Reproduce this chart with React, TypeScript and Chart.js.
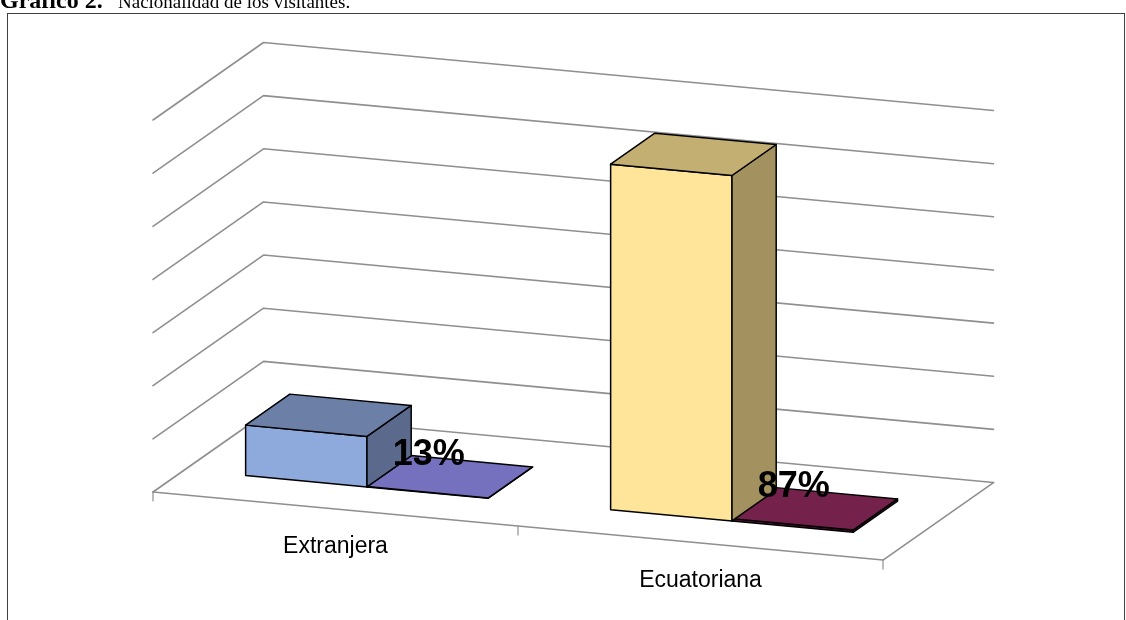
import React, { useEffect, useRef } from "react";
import { Chart, registerables } from "chart.js";

Chart.register(...registerables);

// ---- data ----
const categories = ["Extranjera", "Ecuatoriana"];
const visitantes = [19, 130];
const porcentajes = [0.13, 0.87];
const percentLabels = ["13%", "87%"];
const yMax = 140;
const yStep = 20;

// ---- per-point colours (vary colours by point) ----
const frontColors = ["#8EA9DB", "#FEE599"];
const topColors = ["#6B7FA7", "#C4AF72"];
const sideColors = ["#5B6A8C", "#A39160"];
const tileTopColors = ["#7571BF", "#74224C"];
const tileFrontColors = ["#4E4A87", "#4A1530"];

// ---- pseudo-3D projection settings ----
const DX = 110.5;
const DY = -77.5;
const SLOPE = 0.0932;
const D1 = 0.285;
const D2 = 0.685;

const pseudo3d = {
  id: "pseudo3d",
  beforeDraw(chart: any) {
    const ctx = chart.ctx as CanvasRenderingContext2D;
    ctx.save();
    ctx.fillStyle = "#ffffff";
    ctx.fillRect(0, 0, chart.width, chart.height);
    ctx.strokeStyle = "#404040";
    ctx.lineWidth = 1;
    ctx.strokeRect(7.5, 13.5, 1117, 700);
    ctx.fillStyle = "#000";
    ctx.textAlign = "left";
    ctx.textBaseline = "alphabetic";
    ctx.font = 'bold 24px "Liberation Serif", "Times New Roman", serif';
    ctx.fillText("Gráfico 2.", 0, 8);
    ctx.font = '19px "Liberation Serif", "Times New Roman", serif';
    ctx.fillText("Nacionalidad de los visitantes.", 118, 8);
    ctx.restore();
  },
  afterDatasetsDraw(chart: any) {
    const ctx = chart.ctx as CanvasRenderingContext2D;
    const a = chart.chartArea;
    const xs = chart.scales.x;
    const ys = chart.scales.y;
    const base0 = ys.getPixelForValue(0);
    const H = (v: number) => base0 - ys.getPixelForValue(v);
    const P = (xf: number, d: number, h: number): [number, number] => [
      xf + DX * d,
      base0 + SLOPE * (xf - a.left) + DY * d - h,
    ];
    ctx.save();
    ctx.lineJoin = "round";
    ctx.lineCap = "round";

    // walls gridlines
    let tickVals: number[] = (ys.ticks || []).map((t: any) => t.value);
    if (!tickVals.length) {
      tickVals = [];
      for (let v = 0; v <= yMax; v += yStep) tickVals.push(v);
    }
    ctx.strokeStyle = "#8f8f8f";
    ctx.lineWidth = 1.6;
    for (const v of tickVals) {
      const h = H(v);
      const p0 = P(a.left, 0, h);
      const p1 = P(a.left, 1, h);
      const p2 = P(a.right, 1, h);
      ctx.beginPath();
      ctx.moveTo(p0[0], p0[1]);
      ctx.lineTo(p1[0], p1[1]);
      ctx.lineTo(p2[0], p2[1]);
      ctx.stroke();
    }
    // floor front & right edges
    {
      const p0 = P(a.left, 0, 0);
      const p1 = P(a.right, 0, 0);
      const p2 = P(a.right, 1, 0);
      ctx.beginPath();
      ctx.moveTo(p0[0], p0[1]);
      ctx.lineTo(p1[0], p1[1]);
      ctx.lineTo(p2[0], p2[1]);
      ctx.stroke();
    }
    // category tick marks
    ctx.lineWidth = 1.2;
    const n = categories.length;
    for (let i = 0; i <= n; i++) {
      const xf = a.left + (i * (a.right - a.left)) / n;
      const p = P(xf, 0, 0);
      ctx.beginPath();
      ctx.moveTo(p[0], p[1]);
      ctx.lineTo(p[0], p[1] + 9);
      ctx.stroke();
    }

    const quad = (pts: [number, number][], fill: string) => {
      ctx.beginPath();
      ctx.moveTo(pts[0][0], pts[0][1]);
      for (let k = 1; k < pts.length; k++) ctx.lineTo(pts[k][0], pts[k][1]);
      ctx.closePath();
      ctx.fillStyle = fill;
      ctx.fill();
      ctx.stroke();
    };
    const box = (xl: number, xr: number, h: number, front: string, top: string, side: string) => {
      quad([P(xl, D1, 0), P(xr, D1, 0), P(xr, D1, h), P(xl, D1, h)], front);
      quad([P(xr, D1, 0), P(xr, D2, 0), P(xr, D2, h), P(xr, D1, h)], side);
      quad([P(xl, D1, h), P(xr, D1, h), P(xr, D2, h), P(xl, D2, h)], top);
    };

    const m0 = chart.getDatasetMeta(0);
    const m1 = chart.getDatasetMeta(1);
    ctx.strokeStyle = "#000";
    ctx.lineWidth = 1.5;
    const labelPos: [number, number][] = [];
    for (let i = 0; i < n; i++) {
      const e1 = m1.data[i].getProps(["x", "y", "base", "width"], true);
      const h1 = Math.max(0, e1.base - e1.y);
      box(e1.x - e1.width / 2, e1.x + e1.width / 2, h1, tileFrontColors[i], tileTopColors[i], tileFrontColors[i]);
      labelPos.push(P(e1.x, (D1 + D2) / 2, h1));
      const e0 = m0.data[i].getProps(["x", "y", "base", "width"], true);
      const h0 = Math.max(0, e0.base - e0.y);
      box(e0.x - e0.width / 2, e0.x + e0.width / 2, h0, frontColors[i], topColors[i], sideColors[i]);
    }

    // category labels
    ctx.fillStyle = "#000";
    ctx.textAlign = "center";
    ctx.textBaseline = "alphabetic";
    ctx.font = '23px "Liberation Sans", Arial, sans-serif';
    for (let i = 0; i < n; i++) {
      const xf = xs.getPixelForValue(i);
      const p = P(xf, 0, 0);
      ctx.fillText(categories[i], xf, p[1] + 44);
    }
    // data labels (percent series)
    ctx.font = 'bold 36px "Liberation Sans", Arial, sans-serif';
    for (let i = 0; i < n; i++) {
      const p = labelPos[i];
      ctx.fillText(percentLabels[i], p[0] - 21, p[1] - 12);
    }
    ctx.restore();
  },
};

export default function App() {
  const ref = useRef<HTMLCanvasElement | null>(null);
  useEffect(() => {
    if (!ref.current) return;
    const chart = new Chart(ref.current, {
      type: "bar",
      data: {
        labels: categories,
        datasets: [
          {
            label: "Visitantes",
            data: visitantes,
            backgroundColor: "rgba(0,0,0,0)",
            borderWidth: 0,
          },
          {
            label: "Porcentaje",
            data: porcentajes,
            backgroundColor: "rgba(0,0,0,0)",
            borderWidth: 0,
          },
        ],
      },
      options: {
        responsive: false,
        animation: false,
        devicePixelRatio: 1,
        layout: { padding: { left: 153, right: 243, top: 120, bottom: 128 } },
        datasets: { bar: { categoryPercentage: 0.665, barPercentage: 1 } },
        plugins: {
          legend: { display: false },
          tooltip: { enabled: false },
          title: { display: false },
        },
        scales: {
          x: { type: "category", display: false, offset: true, grid: { display: false } },
          y: { display: false, min: 0, max: yMax, ticks: { stepSize: yStep } },
        },
      } as any,
      plugins: [pseudo3d],
    });
    return () => chart.destroy();
  }, []);
  return (
    <div style={{ position: "fixed", left: 0, top: 0, width: 1126, height: 620, overflow: "hidden", background: "#fff" }}>
      <canvas ref={ref} width={1126} height={620} style={{ display: "block", width: 1126, height: 620 }} />
    </div>
  );
}
